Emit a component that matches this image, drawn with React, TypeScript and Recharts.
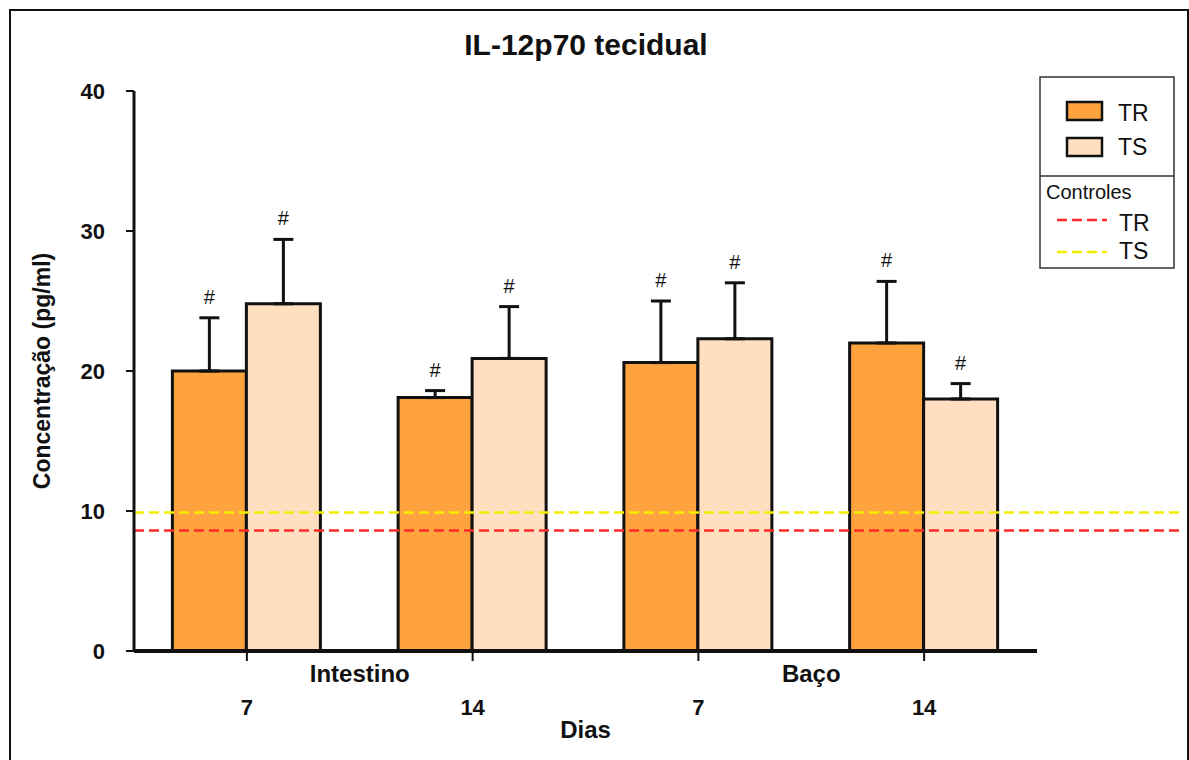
import { ComposedChart, Bar, XAxis, YAxis, ErrorBar, LabelList, ReferenceLine } from 'recharts'

const days = ['7', '14', '7', '14']
const tissues = ['Intestino', 'Intestino', 'Baço', 'Baço']
const trMean = [20.0, 18.1, 20.6, 22.0]
const trErr = [3.8, 0.5, 4.4, 4.4]
const tsMean = [24.8, 20.9, 22.3, 18.0]
const tsErr = [4.6, 3.7, 4.0, 1.1]
const trMark = ['#', '#', '#', '#']
const tsMark = ['#', '#', '#', '#']
const controlTR = 8.6
const controlTS = 9.9
const yTicks = [0, 10, 20, 30, 40]

const FONT = '"Liberation Sans", Arial, sans-serif'
const ORANGE = '#FFA33F'
const PEACH = '#FFDFC0'
const RED = '#FF2A2A'
const YELLOW = '#F2EE00'

const rows = days.map((d, i) => ({
  day: d,
  tissue: tissues[i],
  tr: trMean[i],
  trE: [0, trErr[i]],
  ts: tsMean[i],
  tsE: [0, tsErr[i]],
}))

// "#" sitting above the error cap; px per unit comes from the bar itself
const markLabel = (errs: number[], marks: string[]) => (p: any) => {
  const { x, y, width, height, value, index } = p
  if (!marks[index]) return null
  const top = y - (errs[index] * height) / value
  return (
    <text x={x + width / 2} y={top - 14} textAnchor="middle" fontSize={20} fontFamily={FONT} fill="#111">
      {marks[index]}
    </text>
  )
}

const DayTick = (p: any) => {
  const { x, y, payload } = p
  const i = payload.index
  const half = payload.offset || 113
  return (
    <g fontFamily={FONT} fontWeight="bold" fill="#111">
      <text x={x} y={y + 54} textAnchor="middle" fontSize={22}>{payload.value}</text>
      {i % 2 === 0 && (
        <text x={x + half} y={y + 21} textAnchor="middle" fontSize={24}>{tissues[i]}</text>
      )}
    </g>
  )
}

const dashLine = (color: string) => (p: any) => (
  <line x1={p.x1} y1={p.y1} x2={p.x2 + 143} y2={p.y2} stroke={color} strokeWidth={2.5} strokeDasharray="10 5" />
)

export default function App() {
  return (
    <div style={{ position: 'absolute', left: 0, top: 0, width: 1189, height: 760, background: '#fff', overflow: 'hidden' }}>
      <div style={{ position: 'absolute', left: 9, top: 9, width: 1176, height: 760, border: '2px solid #111', borderBottom: 'none' }} />
      <ComposedChart
        width={1189}
        height={760}
        data={rows}
        margin={{ top: 91, right: 152, bottom: 29, left: 0 }}
        barCategoryGap="17%"
        barGap={0}
        style={{ position: 'absolute', left: 0, top: 0 }}
      >
        <YAxis
          domain={[0, 40]}
          ticks={yTicks}
          width={134}
          tickSize={8}
          tickMargin={21}
          axisLine={{ stroke: '#111', strokeWidth: 3 }}
          tickLine={{ stroke: '#111', strokeWidth: 2 }}
          tick={{ fontFamily: FONT, fontWeight: 'bold', fontSize: 22, fill: '#111' }}
          label={({ viewBox }: any) => (
            <text
              x={50}
              y={viewBox.y + viewBox.height / 2}
              transform={`rotate(-90, 50, ${viewBox.y + viewBox.height / 2})`}
              textAnchor="middle"
              fontFamily={FONT}
              fontWeight="bold"
              fontSize={23}
              fill="#111"
            >
              Concentração (pg/ml)
            </text>
          )}
        />
        <XAxis
          dataKey="day"
          height={80}
          tickSize={10}
          tickMargin={0}
          axisLine={{ stroke: '#111', strokeWidth: 4 }}
          tickLine={{ stroke: '#111', strokeWidth: 2 }}
          tick={<DayTick />}
          interval={0}
          label={({ viewBox }: any) => (
            <text x={viewBox.x + viewBox.width / 2} y={738} textAnchor="middle" fontFamily={FONT} fontWeight="bold" fontSize={24} fill="#111">
              Dias
            </text>
          )}
        />
        <Bar dataKey="tr" fill={ORANGE} stroke="#111" strokeWidth={3} isAnimationActive={false}>
          <ErrorBar dataKey="trE" width={10} stroke="#111" strokeWidth={3} direction="y" />
          <LabelList dataKey="tr" content={markLabel(trErr, trMark)} />
        </Bar>
        <Bar dataKey="ts" fill={PEACH} stroke="#111" strokeWidth={3} isAnimationActive={false}>
          <ErrorBar dataKey="tsE" width={10} stroke="#111" strokeWidth={3} direction="y" />
          <LabelList dataKey="ts" content={markLabel(tsErr, tsMark)} />
        </Bar>
        <ReferenceLine y={controlTS} shape={dashLine(YELLOW)} />
        <ReferenceLine y={controlTR} shape={dashLine(RED)} />
      </ComposedChart>
      <svg width={1189} height={760} style={{ position: 'absolute', left: 0, top: 0, pointerEvents: 'none' }} fontFamily={FONT}>
        <text x={586} y={55} textAnchor="middle" fontSize={30} fontWeight="bold" fill="#111">IL-12p70 tecidual</text>
        <rect x={1040} y={77} width={134} height={191} fill="#fff" stroke="#333" strokeWidth={1.5} />
        <line x1={1040} y1={176} x2={1174} y2={176} stroke="#333" strokeWidth={1.5} />
        <rect x={1067} y={102} width={35} height={18} fill={ORANGE} stroke="#111" strokeWidth={2.5} />
        <text x={1118} y={121} fontSize={23} fill="#111">TR</text>
        <rect x={1067} y={138} width={35} height={18} fill={PEACH} stroke="#111" strokeWidth={2.5} />
        <text x={1118} y={155} fontSize={23} fill="#111">TS</text>
        <text x={1046} y={199} fontSize={20} fill="#111">Controles</text>
        <line x1={1057} y1={220} x2={1107} y2={220} stroke={RED} strokeWidth={2.5} strokeDasharray="10 5" />
        <text x={1119} y={231} fontSize={23} fill="#111">TR</text>
        <line x1={1057} y1={252} x2={1107} y2={252} stroke={YELLOW} strokeWidth={2.5} strokeDasharray="10 5" />
        <text x={1119} y={259} fontSize={23} fill="#111">TS</text>
      </svg>
    </div>
  )
}
